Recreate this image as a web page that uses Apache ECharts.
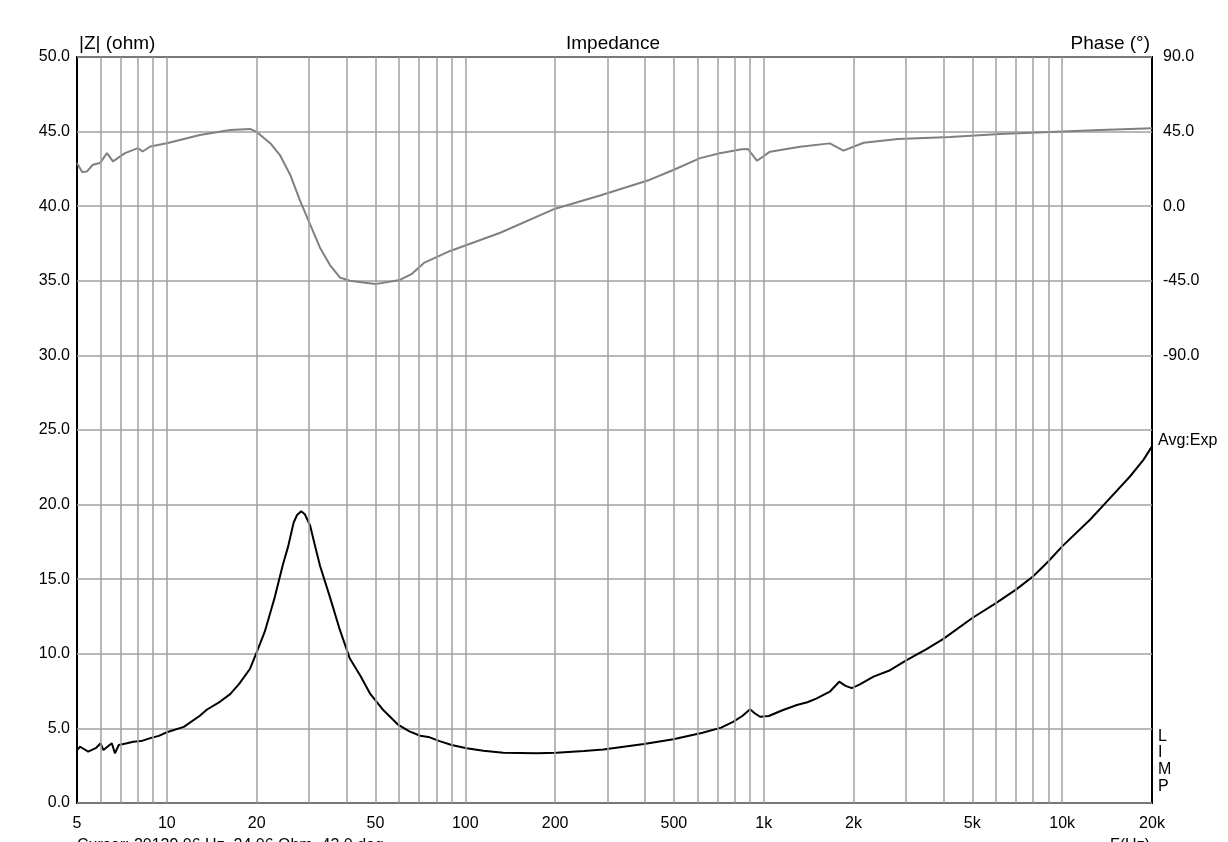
<!DOCTYPE html>
<html>
<head>
<meta charset="utf-8">
<script src="https://cdn.jsdelivr.net/npm/echarts@6/dist/echarts.min.js"></script>
<style>
html,body{margin:0;padding:0;background:#fff;}
#chart{width:1228px;height:842px;}
</style>
</head>
<body>
<div id="chart"></div>
<script>
// Impedance magnitude (ohm) vs frequency (Hz)
const zFreq = [5,5.12,5.45,5.8,6.0,6.13,6.54,6.7,6.9,7.35,7.72,8.2,8.8,9.4,10,11.4,12.9,13.6,15.1,16.3,17.5,19,20,21.3,22.4,23,24.5,25.5,26.6,27.3,28.2,29.0,30.2,31.4,32.6,35.2,38,41,44.6,47.9,53.1,59.7,65,70.6,76,82,90,101,115,134,174,202,250,290,397,498,624,720,792,850,900,935,972,1040,1150,1291,1400,1500,1665,1790,1880,1972,2100,2333,2651,3012,3500,4000,5000,6000,7000,8000,9000,10000,12420,14110,16900,18720,20000];
const zOhm  = [3.55,3.77,3.44,3.7,4.0,3.55,4.0,3.33,3.89,4.0,4.1,4.15,4.35,4.5,4.74,5.1,5.85,6.25,6.8,7.3,8.0,9.0,10.1,11.5,13.0,13.8,16.0,17.2,18.8,19.3,19.55,19.35,18.6,17.2,15.9,13.8,11.6,9.7,8.5,7.35,6.23,5.23,4.8,4.51,4.40,4.15,3.89,3.67,3.5,3.37,3.33,3.37,3.48,3.59,3.95,4.27,4.71,5.05,5.45,5.85,6.28,6.0,5.78,5.83,6.2,6.57,6.75,7.0,7.46,8.13,7.85,7.7,7.95,8.47,8.9,9.58,10.3,11.0,12.4,13.4,14.3,15.2,16.2,17.2,19.0,20.2,21.9,23.0,23.9];

// Phase (degrees) vs frequency (Hz)
const phFreq = [5,5.2,5.4,5.65,5.97,6.3,6.6,7.24,8.0,8.3,8.8,10,12.9,16.3,19,20,22.2,23.9,25.9,27.9,30.2,32.6,35.2,38,41,49.9,60.4,66,73,89,131,200,283,416,500,612,712,845,886,950,1050,1324,1665,1850,2163,2820,4214,6195,9114,13400,20000];
const phDeg  = [26,20.6,21,25,26,32,27,32,35,33,36,38,43,46,46.6,44.8,38,31,19,3.7,-11,-25,-35.5,-43,-45,-47,-44.5,-41,-34,-27,-16,-1.5,6.5,16,22,29,31.9,34.3,34.5,27.4,32.9,35.9,37.9,33.5,38.3,40.5,41.7,43.5,44.8,46,47];

// Axis tick labels and grid frequencies
const xLabelValues = [5,10,20,50,100,200,500,1000,2000,5000,10000,20000];
const xGridValues = [6,7,8,9,10,20,30,40,50,60,70,80,90,100,200,300,400,500,600,700,800,900,1000,2000,3000,4000,5000,6000,7000,8000,9000,10000];

const FONT = '"Liberation Sans", Arial, sans-serif';
const chart = echarts.init(document.getElementById('chart'), null, {renderer: 'canvas'});

function fmtHz(v) {
  if (v >= 1000) return (v / 1000) + 'k';
  return String(v);
}

const zData = zFreq.map((f, i) => [f, zOhm[i]]);
const phData = phFreq.map((f, i) => [f, phDeg[i]]);

const option = {
  backgroundColor: '#fff',
  animation: false,
  grid: {left: 77, right: 76, top: 57, bottom: 39, show: true, borderColor: '#000', borderWidth: 2, backgroundColor: 'transparent'},
  xAxis: {
    type: 'log', logBase: 10, min: 5, max: 20000,
    axisLine: {show: false}, axisTick: {show: false},
    splitLine: {show: false}, minorSplitLine: {show: false},
    axisLabel: {customValues: xLabelValues, formatter: fmtHz, color: '#000', fontFamily: FONT, fontSize: 16, margin: 13, showMinLabel: true, showMaxLabel: true}
  },
  yAxis: [
    {
      type: 'value', min: 0, max: 50, interval: 5,
      axisLine: {show: false}, axisTick: {show: false},
      splitLine: {show: true, lineStyle: {color: '#a0a0a0', width: 1.5}},
      axisLabel: {formatter: v => v.toFixed(1), color: '#000', fontFamily: FONT, fontSize: 16, margin: 7, padding: [6, 0, 0, 0]}
    },
    {
      type: 'value', min: -360, max: 90, interval: 45, position: 'right',
      axisLine: {show: false}, axisTick: {show: false}, splitLine: {show: false},
      axisLabel: {formatter: v => (v >= -90 ? v.toFixed(1) : ''), color: '#000', fontFamily: FONT, fontSize: 16, margin: 11, padding: [6, 0, 0, 0]}
    }
  ],
  series: [
    {
      name: 'grid', type: 'line', data: [], z: 1, silent: true,
      markLine: {
        silent: true, symbol: ['none', 'none'], label: {show: false},
        lineStyle: {color: '#a0a0a0', width: 1.5, type: 'solid'},
        emphasis: {disabled: true},
        data: xGridValues.map(v => ({xAxis: v}))
      }
    },
    {
      name: 'Phase', type: 'line', yAxisIndex: 1, data: phData, showSymbol: false, symbol: 'none',
      lineStyle: {color: '#808080', width: 2}, z: 3
    },
    {
      name: 'Impedance', type: 'line', yAxisIndex: 0, data: zData, showSymbol: false, symbol: 'none',
      lineStyle: {color: '#000', width: 2}, z: 4
    }
  ],
  graphic: [
    {type: 'text', left: 79, top: 34, style: {text: '|Z| (ohm)', font: '19px ' + FONT, fill: '#000'}},
    {type: 'text', x: 613, y: 34, style: {text: 'Impedance', font: '19px ' + FONT, fill: '#000', align: 'center', verticalAlign: 'top'}},
    {type: 'text', x: 1150, y: 34, style: {text: 'Phase (°)', font: '19px ' + FONT, fill: '#000', align: 'right', verticalAlign: 'top'}},
    {type: 'text', x: 1158, y: 441, style: {text: 'Avg:Exp', font: '16px ' + FONT, fill: '#000', align: 'left', verticalAlign: 'middle'}},
    {type: 'text', x: 1158, y: 737, style: {text: 'L', font: '16px ' + FONT, fill: '#000', verticalAlign: 'middle'}},
    {type: 'text', x: 1158, y: 753, style: {text: 'I', font: '16px ' + FONT, fill: '#000', verticalAlign: 'middle'}},
    {type: 'text', x: 1158, y: 770, style: {text: 'M', font: '16px ' + FONT, fill: '#000', verticalAlign: 'middle'}},
    {type: 'text', x: 1158, y: 787, style: {text: 'P', font: '16px ' + FONT, fill: '#000', verticalAlign: 'middle'}},
    {type: 'text', x: 77, y: 838, style: {text: 'Cursor: 20139.06 Hz, 24.06 Ohm, 43.0 deg', font: '16px ' + FONT, fill: '#000', verticalAlign: 'top'}},
    {type: 'text', x: 1150, y: 838, style: {text: 'F(Hz)', font: '16px ' + FONT, fill: '#000', align: 'right', verticalAlign: 'top'}}
  ]
};
chart.setOption(option);
</script>
</body>
</html>
